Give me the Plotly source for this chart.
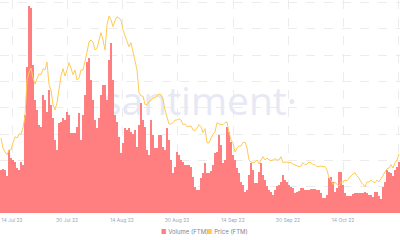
import plotly.graph_objects as go

# ---- data ----
volume_m = [
    43, 44, 43, 37, 63, 55, 53, 51, 45, 43,
    51, 48, 98, 146, 207, 205, 148, 113, 103, 88,
    86, 118, 113, 101, 123, 108, 95, 73, 63, 90,
    91, 95, 93, 101, 98, 80, 80, 80, 86, 100,
    73, 98, 118, 151, 155, 133, 113, 93, 85, 95,
    118, 128, 128, 113, 153, 170, 133, 98, 91, 76,
    60, 70, 85, 83, 85, 81, 79, 83, 66, 88,
    110, 93, 86, 63, 58, 93, 78, 65, 65, 78,
    78, 66, 63, 85, 73, 53, 40, 46, 61, 58,
    53, 51, 48, 48, 48, 46, 36, 26, 23, 23,
    35, 40, 50, 40, 40, 42, 48, 60, 61, 78,
    68, 50, 53, 86, 81, 71, 58, 53, 45, 40,
    31, 28, 21, 23, 38, 50, 43, 30, 30, 41,
    50, 38, 33, 27, 23, 21, 18, 23, 27, 28,
    31, 38, 33, 31, 28, 26, 25, 20, 21, 22,
    25, 25, 23, 23, 23, 24, 24, 24, 23, 23,
    20, 15, 15, 18, 35, 36, 31, 21, 25, 41,
    41, 28, 20, 17, 17, 17, 19, 20, 20, 20,
    20, 20, 21, 20, 18, 18, 16, 21, 21, 17,
    14, 26, 31, 43, 41, 40, 37, 43, 46, 51,
]

price_usd = [
    0.263, 0.248, 0.242, 0.238, 0.245, 0.245, 0.256, 0.265, 0.263, 0.269,
    0.269, 0.278, 0.296, 0.350, 0.361, 0.368, 0.353, 0.344, 0.352, 0.359,
    0.358, 0.367, 0.365, 0.377, 0.343, 0.335, 0.313, 0.305, 0.316, 0.338,
    0.356, 0.367, 0.356, 0.365, 0.376, 0.368, 0.358, 0.365, 0.350, 0.353,
    0.365, 0.365, 0.377, 0.392, 0.407, 0.410, 0.407, 0.395, 0.398, 0.410,
    0.421, 0.410, 0.395, 0.433, 0.446, 0.440, 0.430, 0.439, 0.445, 0.443,
    0.440, 0.425, 0.416, 0.407, 0.400, 0.406, 0.391, 0.377, 0.365, 0.331,
    0.326, 0.326, 0.313, 0.313, 0.317, 0.320, 0.323, 0.323, 0.326, 0.329,
    0.328, 0.320, 0.305, 0.293, 0.284, 0.284, 0.286, 0.290, 0.290, 0.292,
    0.290, 0.283, 0.284, 0.280, 0.281, 0.281, 0.275, 0.274, 0.278, 0.283,
    0.280, 0.271, 0.277, 0.256, 0.256, 0.262, 0.269, 0.272, 0.286, 0.284,
    0.283, 0.283, 0.286, 0.287, 0.272, 0.260, 0.256, 0.242, 0.248, 0.251,
    0.251, 0.256, 0.257, 0.248, 0.230, 0.227, 0.226, 0.227, 0.230, 0.224,
    0.230, 0.235, 0.230, 0.233, 0.230, 0.229, 0.230, 0.232, 0.230, 0.230,
    0.235, 0.226, 0.227, 0.227, 0.226, 0.226, 0.224, 0.223, 0.221, 0.220,
    0.221, 0.226, 0.223, 0.224, 0.227, 0.226, 0.223, 0.223, 0.220, 0.221,
    0.221, 0.220, 0.220, 0.215, 0.203, 0.200, 0.193, 0.197, 0.193, 0.191,
    0.197, 0.197, 0.200, 0.199, 0.203, 0.206, 0.209, 0.211, 0.206, 0.203,
    0.197, 0.193, 0.190, 0.197, 0.197, 0.200, 0.197, 0.196, 0.200, 0.197,
    0.202, 0.205, 0.211, 0.217, 0.218, 0.223, 0.218, 0.226, 0.230, 0.239,
]

tick_positions = [5.5, 33, 60.5, 88, 116, 143.5, 171, 198.5]
tick_labels = ["14 Jul 22", "30 Jul 22", "14 Aug 22", "30 Aug 22",
               "14 Sep 22", "30 Sep 22", "14 Oct 22", "30 Oct 22"]

x_index = list(range(len(volume_m)))

VOL_COLOR = "#ff7f80"
PRICE_COLOR = "#ffcb55"
GRID_COLOR = "#ececec"
FONT = "Inter, Open Sans, sans-serif"

fig = go.Figure()

# watermark on the base subplot (drawn below the data subplots)
fig.add_trace(go.Scatter(
    x=[99.5], y=[4.1], mode="text", text=["santiment·"],
    textfont=dict(family="Open Sans", size=39, color="#e6e9f3"),
    hoverinfo="skip", showlegend=False, xaxis="x", yaxis="y",
))

fig.add_trace(go.Bar(
    x=x_index, y=volume_m, name="Volume (FTM)",
    marker=dict(color=VOL_COLOR, line=dict(width=0)),
    xaxis="x", yaxis="y2", showlegend=False,
))

fig.add_trace(go.Scatter(
    x=x_index, y=price_usd, name="Price (FTM)", mode="lines",
    line=dict(color=PRICE_COLOR, width=1),
    xaxis="x", yaxis="y3", showlegend=False,
))

fig.update_layout(
    width=400, height=240,
    margin=dict(l=0, r=0, t=0, b=27),
    paper_bgcolor="white", plot_bgcolor="white",
    bargap=0.03,
    showlegend=False,
    font=dict(family=FONT),
    xaxis=dict(
        range=[-0.5, 199.5], tickmode="array",
        tickvals=tick_positions, ticktext=tick_labels,
        showgrid=True, gridcolor=GRID_COLOR, griddash="dash", gridwidth=1,
        zeroline=False, showline=False, ticks="",
        ticklabelstandoff=3,
        tickfont=dict(size=5, color="#a0a8b8", family=FONT),
    ),
    yaxis=dict(
        range=[0, 8.103], dtick=1, tick0=0,
        showgrid=True, gridcolor=GRID_COLOR, griddash="dash", gridwidth=1,
        zeroline=False, showline=False, showticklabels=False, ticks="",
    ),
    yaxis2=dict(
        range=[0, 213], overlaying="y", showgrid=False, zeroline=False,
        showticklabels=False, ticks="", showline=False,
    ),
    yaxis3=dict(
        range=[0.1505, 0.470], overlaying="y", showgrid=False, zeroline=False,
        showticklabels=False, ticks="", showline=False,
    ),
    annotations=[
        dict(text="<span style='color:%s'>■</span> Volume (FTM)" % VOL_COLOR,
             x=159 / 400, y=-0.085, xref="paper", yref="paper",
             xanchor="left", yanchor="middle", showarrow=False,
             font=dict(size=6, color="#7d8698", family=FONT)),
        dict(text="<span style='color:%s'>■</span> Price (FTM)" % PRICE_COLOR,
             x=205 / 400, y=-0.085, xref="paper", yref="paper",
             xanchor="left", yanchor="middle", showarrow=False,
             font=dict(size=6, color="#7d8698", family=FONT)),
    ],
)

fig.write_html("out.html")
